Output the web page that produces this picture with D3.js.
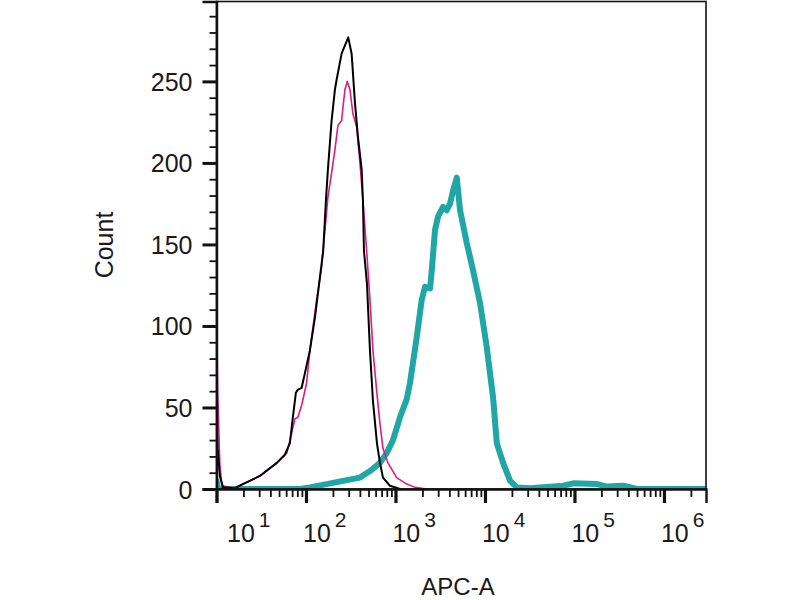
<!DOCTYPE html>
<html>
<head>
    <meta charset="utf-8">
    <script src="https://cdn.jsdelivr.net/npm/d3@7/dist/d3.min.js"></script>
    <style>
        body { margin: 0; background: #fff; }
        svg { display: block; font-family: "Liberation Sans", Arial, sans-serif; }
        .line { fill: none; stroke-linejoin: round; stroke-linecap: round; }
        .lbl { fill: #1a1a1a; }
    </style>
</head>
<body>
    <svg width="800" height="600"></svg>

    <script>
        // isotype control (black)
        const ctrlX = [10, 10.3, 10.9, 11.8, 16, 19.7, 30.5, 47.2, 58, 66, 71.3, 77.1, 81.2, 89.3, 97.2,
                       110.6, 125.8, 143.2, 155.6, 167, 175.8, 193.3, 210.5, 219.9, 250, 296.5, 323.6,
                       352.3, 380.8, 418.8, 432.8, 444.4, 480, 518.6, 560, 621, 671, 725, 868, 1122];
        const ctrlY = [44, 25, 8, 1, 0.5, 3, 8, 16, 21, 28, 44, 59, 61, 62, 71,
                       85, 105, 130, 146, 177, 196, 226, 245, 251, 267, 277, 267,
                       237, 216, 196, 177, 146, 126, 85, 54, 28, 16, 7, 2, 0];

        // unstained (magenta)
        const unstX = [10, 10.3, 10.9, 11.5, 16, 19.7, 30.5, 47.2, 61, 69, 75.2, 81.2, 90, 101.6,
                       110.6, 131.5, 149.4, 175.8, 193.3, 210.5, 227.5, 250, 258.9, 272.5, 288.9,
                       309.8, 334.7, 368.5, 400.6, 432.8, 476.6, 518.6, 560, 616.9, 671, 725, 824,
                       1030, 1334, 1651, 2234];
        const unstY = [122, 60, 15, 2, 0.5, 3, 8, 16, 22, 34, 43, 44, 52, 65,
                       85, 116, 136, 179, 194, 208, 223, 226, 234, 245, 250,
                       245, 230, 222, 200, 177, 146, 116, 85, 60, 40, 25, 16,
                       7, 3, 1, 0];

        // stained sample (teal)
        const sampX = [10, 10.3, 10.9, 85.5, 110.6, 169.8, 258.9, 400.6, 518.6, 671, 797, 938, 1122,
                       1334, 1452, 1726, 1963, 2138, 2433, 2543, 2768, 2988, 3399, 3740, 4073, 4398,
                       4840, 5265, 6254, 7360, 8810, 10470, 12320, 13560, 15950, 19100, 22700, 32000,
                       74800, 96700, 179500, 232000, 350700, 502600, 2950000];
        const sampY = [5, 1, 0, 0, 1, 3, 5, 7, 11, 16, 22, 30, 44,
                       55, 65, 93, 116, 124, 123, 134, 159, 167, 173, 171, 175, 183,
                       191, 171, 151, 134, 114, 87, 56, 28, 16, 5, 1, 0.5,
                       2, 3.5, 3, 1.5, 2, 0, 0];

        const yMajor = [0, 50, 100, 150, 200, 250];
        const yMinor = d3.range(0, 300, 10);
        const xDecades = [1, 2, 3, 4, 5, 6];

        const svg = d3.select("svg");

        const pLeft = 216.5, pRight = 706, pTop = 1.5, pBottom = 489;

        const x = d3.scaleLog()
            .domain([10, 2.95e6])
            .range([pLeft, pRight]);

        const y = d3.scaleLinear()
            .domain([0, 299])
            .range([pBottom, pTop]);

        svg.append("defs").append("clipPath").attr("id", "plotclip")
            .append("rect")
            .attr("x", pLeft).attr("y", pTop)
            .attr("width", pRight - pLeft).attr("height", pBottom - pTop);

        // series
        const series = [
            { xs: sampX, ys: sampY, color: "#20a6a5", width: 6 },
            { xs: unstX, ys: unstY, color: "#d81f80", width: 1.6 },
            { xs: ctrlX, ys: ctrlY, color: "#000000", width: 2 }
        ];

        const line = d3.line()
            .x(d => x(d[0]))
            .y(d => y(d[1]));

        const plot = svg.append("g").attr("clip-path", "url(#plotclip)");
        series.forEach(function(s) {
            plot.append("path")
                .attr("class", "line")
                .attr("d", line(d3.zip(s.xs, s.ys)))
                .attr("stroke", s.color)
                .attr("stroke-width", s.width);
        });

        // frame
        svg.append("rect")
            .attr("x", pLeft).attr("y", pTop)
            .attr("width", pRight - pLeft).attr("height", pBottom - pTop)
            .attr("fill", "none")
            .attr("stroke", "#111")
            .attr("stroke-width", 1.6);

        // y axis
        const yMinorAxis = svg.append("g")
            .attr("transform", "translate(" + pLeft + ",0)")
            .call(d3.axisLeft(y).tickValues(yMinor).tickSize(7).tickFormat(""));
        yMinorAxis.select(".domain").remove();
        yMinorAxis.selectAll("line").attr("stroke", "#111").attr("stroke-width", 1.8);

        const yMajorAxis = svg.append("g")
            .attr("transform", "translate(" + pLeft + ",0)")
            .call(d3.axisLeft(y).tickValues(yMajor).tickSize(14).tickPadding(10));
        yMajorAxis.select(".domain").attr("stroke", "#111").attr("stroke-width", 2.4);
        yMajorAxis.selectAll("line").attr("stroke", "#111").attr("stroke-width", 3);
        yMajorAxis.selectAll("text")
            .attr("class", "lbl")
            .attr("font-size", 25)
            .attr("dy", "0.36em");

        // x axis
        const xMinorVals = [];
        xDecades.forEach(function(e) {
            for (let k = 2; k <= 9; k++) {
                const v = k * Math.pow(10, e);
                if (v < x.domain()[1]) xMinorVals.push(v);
            }
        });
        const xMajorVals = xDecades.map(e => Math.pow(10, e));

        const xMinorAxis = svg.append("g")
            .attr("transform", "translate(0," + pBottom + ")")
            .call(d3.axisBottom(x).tickValues(xMinorVals).tickSize(8).tickFormat(""));
        xMinorAxis.select(".domain").remove();
        xMinorAxis.selectAll("line").attr("stroke", "#111").attr("stroke-width", 1.8);

        const xMajorAxis = svg.append("g")
            .attr("transform", "translate(0," + pBottom + ")")
            .call(d3.axisBottom(x).tickValues(xMajorVals).tickSize(14).tickFormat(""));
        xMajorAxis.select(".domain").attr("stroke", "#111").attr("stroke-width", 2.4);
        xMajorAxis.selectAll("line").attr("stroke", "#111").attr("stroke-width", 3.2);

        // decade labels 10^n
        const xl = svg.append("g");
        xDecades.forEach(function(e) {
            const px = Math.max(x(Math.pow(10, e)) - 3, 227);
            const t = xl.append("text")
                .attr("class", "lbl")
                .attr("x", px)
                .attr("y", 542)
                .attr("font-size", 25);
            t.append("tspan").text("10");
            t.append("tspan")
                .attr("dx", 4)
                .attr("dy", -15)
                .attr("font-size", 21)
                .text(e);
        });

        // axis titles
        svg.append("text")
            .attr("class", "lbl")
            .attr("x", 458)
            .attr("y", 595)
            .attr("text-anchor", "middle")
            .attr("font-size", 24)
            .text("APC-A");

        svg.append("text")
            .attr("class", "lbl")
            .attr("transform", "translate(113,245) rotate(-90)")
            .attr("text-anchor", "middle")
            .attr("font-size", 25)
            .text("Count");
    </script>
</body>
</html>
